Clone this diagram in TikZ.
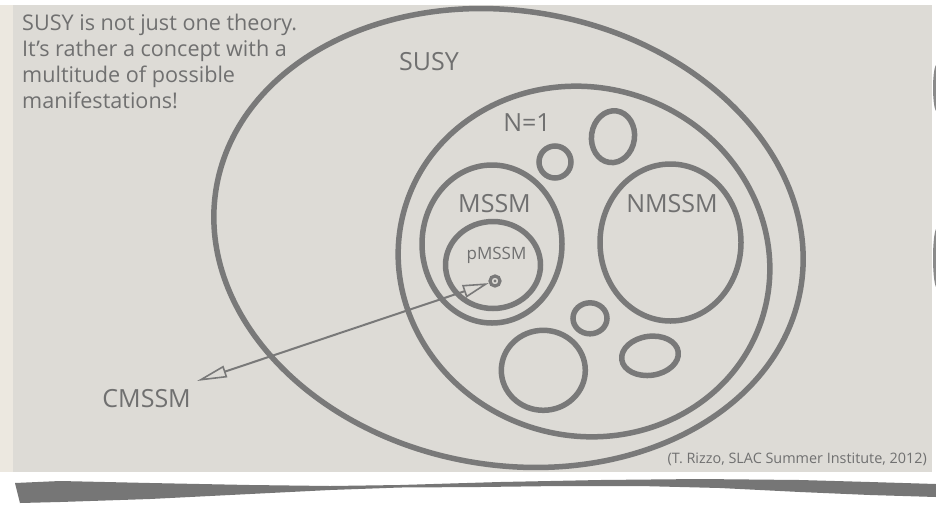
\documentclass[tikz,border=0pt]{standalone}
\usepackage{fontspec}
\setmainfont{Open Sans}
\usetikzlibrary{arrows.meta, positioning, shapes.geometric}
\definecolor{paperBase}{RGB}{221,219,214}
\definecolor{paperRim}{RGB}{236,232,224}
\definecolor{ringEdge}{RGB}{121,121,121}
\definecolor{inkGray}{RGB}{112,112,112}
\definecolor{tearGray}{RGB}{118,118,118}

\begin{document}
\begin{tikzpicture}[
    x=1pt, y=-1pt,
    setring/.style={ellipse, draw=ringEdge, line width=5.5pt, inner sep=0pt},
    lbl/.style={text=inkGray, inner sep=0pt, font=\fontsize{25}{29}\selectfont},
    small/.style={text=inkGray, inner sep=0pt, font=\fontsize{17}{20}\selectfont},
    cite/.style={text=inkGray, inner sep=0pt, font=\fontsize{14.4}{17}\selectfont},
    note/.style={text=inkGray, inner sep=0pt, align=left, font=\fontsize{21.6}{26}\selectfont},
    pairarrow/.style={{Triangle[open, length=30pt, width=12pt, line width=1.6pt]}-{Triangle[open, length=26pt, width=13pt, line width=1.6pt]}, line width=2pt, draw=ringEdge}
]

% --- Papel ---
\useasboundingbox (0,0) rectangle (936,504);
\fill[white] (0,0) rectangle (936,504);
\fill[paperRim] (0,5) rectangle (14,472);
\fill[paperBase] (13,5) rectangle (932,472);
\fill[tearGray!85] (937,88) ellipse (4 and 24);
\fill[tearGray!85] (937,258) ellipse (4 and 30);

% rasgo de baixo
\fill[tearGray] (15,483) -- (60,481) -- (150,483) -- (250,485) -- (330,486) -- (400,485)
    -- (500,482) -- (600,480) -- (700,479) -- (800,480) -- (870,482) -- (936,484)
    -- (936,497) -- (870,495) -- (800,492) -- (720,488) -- (640,486) -- (560,486)
    -- (480,487) -- (400,487.5) -- (330,490) -- (250,494) -- (150,499) -- (60,502) -- (20,503) -- cycle;

% --- Conjuntos ---
\node[setring, minimum width=593pt, minimum height=454pt, rotate=-10] (susy) at (508.5,238) {};
\node[setring, minimum width=374pt, minimum height=348pt, rotate=-18] (none) at (584,261.5) {};
\node[setring, minimum width=140pt, minimum height=158pt] (mssm) at (492,244) {};
\node[setring, minimum width=141pt, minimum height=157pt] (nmssm) at (670.5,242.5) {};
\node[setring, minimum width=95pt, minimum height=87pt] (pmssm) at (493,265) {};

% pequenos
\node[setring, minimum width=32pt, minimum height=32pt] (blobA) at (555,162) {};
\node[setring, minimum width=43pt, minimum height=52pt, rotate=-8] (blobB) at (613,136.7) {};
\node[setring, minimum width=34pt, minimum height=31pt] (blobC) at (590,318.3) {};
\node[setring, minimum width=84pt, minimum height=80pt] (blobD) at (543.3,370.3) {};
\node[setring, minimum width=57pt, minimum height=39pt, rotate=8] (blobE) at (650,355.8) {};

% ponto CMSSM
\node[circle, draw=ringEdge, line width=3.2pt, minimum size=10pt, inner sep=0pt] (cmpt) at (495,281) {};
\fill[ringEdge] (cmpt.center) circle (1.7);

% --- Rótulos ---
\node[lbl, anchor=base] (susylbl) at (429,70) {SUSY};
\node[lbl, anchor=base] (nonelbl) at (527,131.7) {N=1};
\node[lbl, anchor=base] (mssmlbl) at (494.5,212.7) {MSSM};
\node[lbl, anchor=base] (nmssmlbl) at (672,212.7) {NMSSM};
\node[small, anchor=base] (pmssmlbl) at (496.5,259.3) {pMSSM};
\node[lbl, anchor=base east] (cmssmlbl) at (191,407.3) {CMSSM};

\node[note, anchor=north west] (intro) at (22,13.5)
    {SUSY is not just one theory.\\It’s rather a concept with a\\multitude of possible\\manifestations!};
\node[cite, anchor=base east] (citation) at (927,463) {(T. Rizzo, SLAC Summer Institute, 2012)};

% seta CMSSM
\coordinate (cmtail) at (197,381);
\draw[pairarrow] (cmtail) -- (cmpt);

\end{tikzpicture}
\end{document}
